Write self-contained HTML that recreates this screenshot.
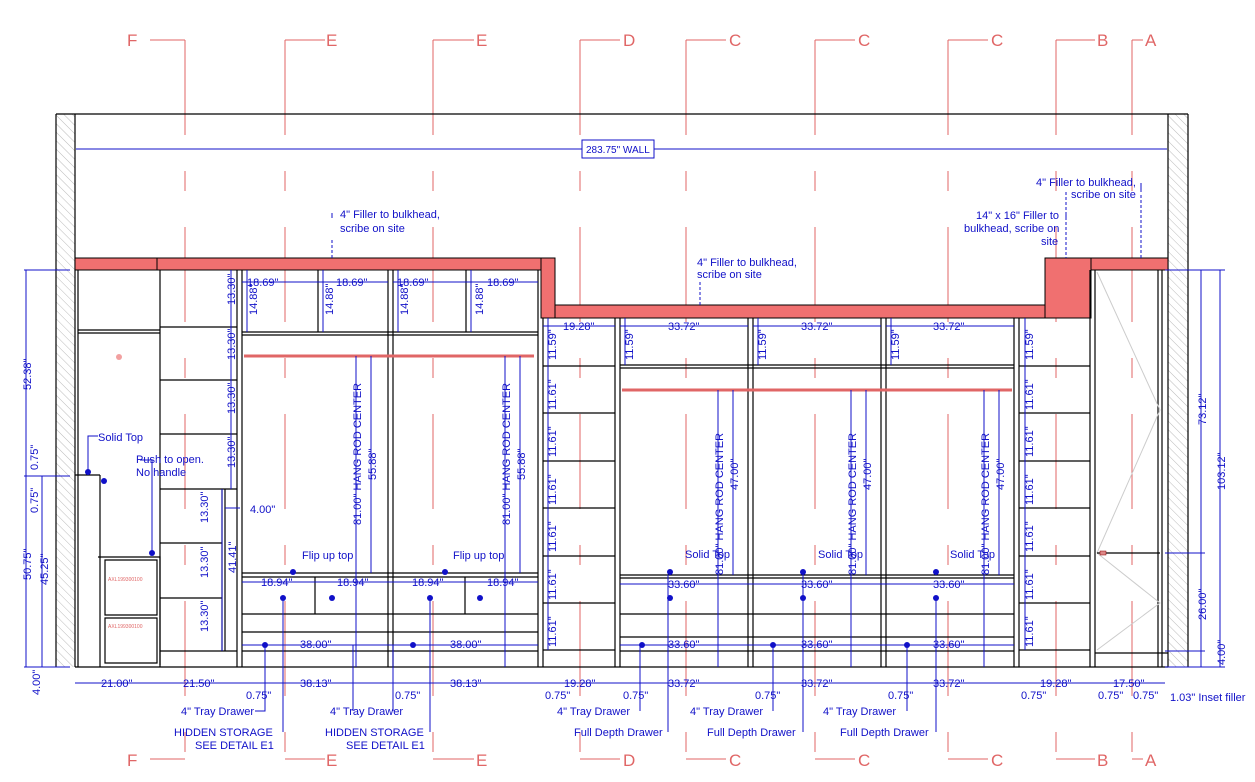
<!DOCTYPE html>
<html><head><meta charset="utf-8"><style>
html,body{margin:0;padding:0;background:#fff}
svg{display:block}
text{font-family:"Liberation Sans",sans-serif}
.d{fill:#1010c8;font-size:11px}
.s{fill:#e06666;font-size:17px}
.b{stroke:#000;stroke-width:1.2;fill:none}
.bl{stroke:#1010c8;stroke-width:1;fill:none}
.r{stroke:#e06666;stroke-width:1;fill:none}
.rd{stroke:#e06666;stroke-width:1;stroke-dasharray:95,36,20,36;fill:none}
</style></head><body>
<svg width="1255" height="782" viewBox="0 0 1255 782" xmlns="http://www.w3.org/2000/svg">
<defs>
<pattern id="h" width="6" height="6" patternUnits="userSpaceOnUse" patternTransform="rotate(-45)"><line x1="0" y1="0" x2="0" y2="6" stroke="#bbb" stroke-width="1"/></pattern>
</defs>
<g class="rd">
<path d="M185 40V760M285 40V760M433 40V760M580 40V760M686 40V760M815 40V760M948 40V760M1056 40V760M1132 40V760"/>
</g>
<g class="r">
<path d="M150 40H185M285 40H325M433 40H474M580 40H620M686 40H726M815 40H855M948 40H988M1056 40H1095M1132 40H1143"/>
<path d="M150 759H185M285 759H325M433 759H474M580 759H620M686 759H726M815 759H855M948 759H988M1056 759H1095M1132 759H1143"/>
</g>
<g class="s">
<text x="127" y="46">F</text><text x="326" y="46">E</text><text x="476" y="46">E</text><text x="623" y="46">D</text><text x="729" y="46">C</text><text x="858" y="46">C</text><text x="991" y="46">C</text><text x="1097" y="46">B</text><text x="1145" y="46">A</text>
<text x="127" y="766">F</text><text x="326" y="766">E</text><text x="476" y="766">E</text><text x="623" y="766">D</text><text x="729" y="766">C</text><text x="858" y="766">C</text><text x="991" y="766">C</text><text x="1097" y="766">B</text><text x="1145" y="766">A</text>
</g>
<rect x="56" y="114" width="19" height="553" fill="url(#h)"/>
<rect x="1168" y="114" width="20" height="553" fill="url(#h)"/>
<path class="b" d="M56 114H1188M56 114V667M75 114V667M1168 114V667M1188 114V667M75 667H1168"/>
<path class="bl" d="M76 149H582M654 149H1167"/>
<rect x="582" y="140" width="72" height="18" fill="#fff" stroke="#1010c8"/>
<text class="d" x="586" y="153" style="font-size:10px">283.75" WALL</text>
<g fill="#f07070" stroke="#000" stroke-width="1">
<rect x="75" y="258" width="466" height="12"/>
<line x1="157" y1="258" x2="157" y2="270"/>
<rect x="541" y="258" width="14" height="60"/>
<rect x="555" y="305" width="490" height="13"/>
<rect x="1045" y="258" width="46" height="60"/>
<rect x="1091" y="258" width="77" height="12"/>
</g>
<path class="b" d="M78 270V667M160 270V667M237 270V667M242 270V667M388 270V667M393 270V667M538 270V667M543 318V667M615 318V667M620 318V667M748 318V667M753 318V667M881 318V667M886 318V667M1014 318V667M1019 318V667M1090 270V667M1095 270V667M1158 270V667M1162 270V667"/>
<path class="b" d="M78 330H160M78 333H160M75 475H100M100 475V557M98 557H160V665M100 557V667M105 560H157V615H105ZM105 618H157V663H105Z"/>
<text x="108" y="581" fill="#e06666" style="font-size:5px">AXL199300100</text>
<text x="108" y="628" fill="#e06666" style="font-size:5px">AXL199300100</text>
<circle cx="119" cy="357" r="3" fill="#f2a0a0"/>
<path class="b" d="M160 327H237M160 380H237M160 434H237M160 489H237M160 543H222M160 598H222M160 651H237M222 489V651M225 489V651"/>
<path class="b" d="M242 332H538M242 335H538M318 270V332M466 270V332M242 573H538M242 577H538M242 614H538M242 632H538M242 651H538M315 577V614M465 577V614"/>
<path d="M244 356H534" stroke="#e06666" stroke-width="3"/>
<path class="b" d="M620 365H1014M620 368H1014M620 575H1014M620 578H1014M620 614H1014M620 637H1014M620 651H1014"/>
<path d="M622 390H1012" stroke="#e06666" stroke-width="3"/>
<path class="b" d="M543 366H615M543 413H615M543 461H615M543 508H615M543 556H615M543 603H615M543 650H615"/>
<path class="b" d="M1019 366H1090M1019 413H1090M1019 461H1090M1019 508H1090M1019 556H1090M1019 603H1090M1019 650H1090"/>
<path d="M1097 272L1160 410L1097 553L1160 603L1097 650" stroke="#ccc" fill="none"/>
<path class="b" d="M1097 553H1160M1095 653H1168"/>
<rect x="1100" y="551" width="6" height="4" fill="#d88" stroke="#800" stroke-width=".5"/>
<g class="bl">
<path d="M26 270V667M42 476V667M24 270H70M24 476H70M24 667H70"/>
<path d="M242 282H388M393 282H538M247 270V332M323 270V332M398 270V332M471 270V332"/>
<path d="M231 270V489M222 489V651M225 508H240"/>
<path d="M543 326H615M620 326H748M753 326H881M886 326H1014M548 318V650M625 318V365M758 318V365M891 318V365M1025 318V650"/>
<path d="M242 582H538M242 645H538M620 584H1014M620 645H1014"/>
<path d="M356 356V667M371 356V573M505 356V667M520 356V573M718 390V667M733 390V575M851 390V667M866 390V575M984 390V667M999 390V575"/>
<path d="M1201 270V667M1220 270V667M1165 553H1205M1165 651H1205M1165 270H1225M1165 667H1225"/>
<path d="M75 683H1165"/>
<path d="M265 645V711H255M393 645V711M353 645V711M430 598V732M640 645V711M668 575V732M773 645V711M803 575V732M907 645V711M936 598V732M283 598V732"/>
<path d="M88 472V436H98M152 553V460H140"/>
</g>
<g fill="#1010c8">
<circle cx="88" cy="472" r="3"/><circle cx="104" cy="481" r="3"/><circle cx="152" cy="553" r="3"/>
<circle cx="293" cy="572" r="3"/><circle cx="445" cy="572" r="3"/><circle cx="283" cy="598" r="3"/><circle cx="332" cy="598" r="3"/><circle cx="430" cy="598" r="3"/><circle cx="480" cy="598" r="3"/>
<circle cx="265" cy="645" r="3"/><circle cx="413" cy="645" r="3"/>
<circle cx="670" cy="572" r="3"/><circle cx="803" cy="572" r="3"/><circle cx="936" cy="572" r="3"/>
<circle cx="670" cy="598" r="3"/><circle cx="803" cy="598" r="3"/><circle cx="936" cy="598" r="3"/>
<circle cx="642" cy="645" r="3"/><circle cx="773" cy="645" r="3"/><circle cx="907" cy="645" r="3"/>
</g>
<g class="d">
<text x="340" y="218">4" Filler to bulkhead,</text><text x="340" y="232">scribe on site</text>
<text x="697" y="266">4" Filler to bulkhead,</text><text x="697" y="278">scribe on site</text>
<text x="1036" y="186">4" Filler to bulkhead,</text><text x="1071" y="198">scribe on site</text>
<text x="976" y="219">14" x 16" Filler to</text><text x="964" y="232">bulkhead, scribe on</text><text x="1041" y="245">site</text>
<text x="98" y="441">Solid Top</text>
<text x="136" y="463">Push to open.</text><text x="136" y="476">No handle</text>
<text x="302" y="559">Flip up top</text><text x="453" y="559">Flip up top</text>
<text x="685" y="558">Solid Top</text><text x="818" y="558">Solid Top</text><text x="950" y="558">Solid Top</text>
<text x="247" y="286">18.69"</text><text x="336" y="286">18.69"</text><text x="397" y="286">18.69"</text><text x="487" y="286">18.69"</text>
<text x="563" y="330">19.28"</text><text x="668" y="330">33.72"</text><text x="801" y="330">33.72"</text><text x="933" y="330">33.72"</text>
<text x="261" y="586">18.94"</text><text x="337" y="586">18.94"</text><text x="412" y="586">18.94"</text><text x="487" y="586">18.94"</text>
<text x="668" y="588">33.60"</text><text x="801" y="588">33.60"</text><text x="933" y="588">33.60"</text>
<text x="300" y="648">38.00"</text><text x="450" y="648">38.00"</text>
<text x="668" y="648">33.60"</text><text x="801" y="648">33.60"</text><text x="933" y="648">33.60"</text>
<text x="250" y="513">4.00"</text>
<text x="101" y="687">21.00"</text><text x="183" y="687">21.50"</text><text x="300" y="687">38.13"</text><text x="450" y="687">38.13"</text>
<text x="564" y="687">19.28"</text><text x="668" y="687">33.72"</text><text x="801" y="687">33.72"</text><text x="933" y="687">33.72"</text><text x="1040" y="687">19.28"</text><text x="1113" y="687">17.50"</text>
<text x="246" y="699">0.75"</text><text x="395" y="699">0.75"</text><text x="545" y="699">0.75"</text><text x="623" y="699">0.75"</text><text x="755" y="699">0.75"</text><text x="888" y="699">0.75"</text><text x="1021" y="699">0.75"</text><text x="1098" y="699">0.75"</text><text x="1133" y="699">0.75"</text>
<text x="1170" y="701">1.03" Inset filler</text>
<text x="181" y="715">4" Tray Drawer</text><text x="330" y="715">4" Tray Drawer</text><text x="557" y="715">4" Tray Drawer</text><text x="690" y="715">4" Tray Drawer</text><text x="823" y="715">4" Tray Drawer</text>
<text x="174" y="736">HIDDEN STORAGE</text><text x="195" y="749">SEE DETAIL E1</text>
<text x="325" y="736">HIDDEN STORAGE</text><text x="346" y="749">SEE DETAIL E1</text>
<text x="574" y="736">Full Depth Drawer</text><text x="707" y="736">Full Depth Drawer</text><text x="840" y="736">Full Depth Drawer</text>
</g>
<g class="d">
<text transform="translate(31,390) rotate(-90)">52.38"</text>
<text transform="translate(31,580) rotate(-90)">50.75"</text>
<text transform="translate(38,470) rotate(-90)">0.75"</text>
<text transform="translate(38,513) rotate(-90)">0.75"</text>
<text transform="translate(48,585) rotate(-90)">45.25"</text>
<text transform="translate(40,695) rotate(-90)">4.00"</text>
<text transform="translate(235,305) rotate(-90)">13.30"</text><text transform="translate(235,360) rotate(-90)">13.30"</text><text transform="translate(235,414) rotate(-90)">13.30"</text><text transform="translate(235,468) rotate(-90)">13.30"</text>
<text transform="translate(208,523) rotate(-90)">13.30"</text><text transform="translate(208,578) rotate(-90)">13.30"</text><text transform="translate(208,632) rotate(-90)">13.30"</text>
<text transform="translate(236,573) rotate(-90)">41.41"</text>
<text transform="translate(257,315) rotate(-90)">14.88"</text><text transform="translate(333,315) rotate(-90)">14.88"</text><text transform="translate(408,315) rotate(-90)">14.88"</text><text transform="translate(483,315) rotate(-90)">14.88"</text>
<text transform="translate(361,525) rotate(-90)">81.00" HANG ROD CENTER</text><text transform="translate(510,525) rotate(-90)">81.00" HANG ROD CENTER</text>
<text transform="translate(376,480) rotate(-90)">55.88"</text><text transform="translate(525,480) rotate(-90)">55.88"</text>
<text transform="translate(723,575) rotate(-90)">81.00" HANG ROD CENTER</text><text transform="translate(856,575) rotate(-90)">81.00" HANG ROD CENTER</text><text transform="translate(989,575) rotate(-90)">81.00" HANG ROD CENTER</text>
<text transform="translate(738,490) rotate(-90)">47.00"</text><text transform="translate(871,490) rotate(-90)">47.00"</text><text transform="translate(1004,490) rotate(-90)">47.00"</text>
<text transform="translate(556,360) rotate(-90)">11.59"</text><text transform="translate(633,360) rotate(-90)">11.59"</text><text transform="translate(766,360) rotate(-90)">11.59"</text><text transform="translate(899,360) rotate(-90)">11.59"</text><text transform="translate(1033,360) rotate(-90)">11.59"</text>
<text transform="translate(556,410) rotate(-90)">11.61"</text><text transform="translate(556,457) rotate(-90)">11.61"</text><text transform="translate(556,505) rotate(-90)">11.61"</text><text transform="translate(556,552) rotate(-90)">11.61"</text><text transform="translate(556,600) rotate(-90)">11.61"</text><text transform="translate(556,647) rotate(-90)">11.61"</text>
<text transform="translate(1033,410) rotate(-90)">11.61"</text><text transform="translate(1033,457) rotate(-90)">11.61"</text><text transform="translate(1033,505) rotate(-90)">11.61"</text><text transform="translate(1033,552) rotate(-90)">11.61"</text><text transform="translate(1033,600) rotate(-90)">11.61"</text><text transform="translate(1033,647) rotate(-90)">11.61"</text>
<text transform="translate(1206,425) rotate(-90)">73.12"</text><text transform="translate(1225,490) rotate(-90)">103.12"</text>
<text transform="translate(1206,620) rotate(-90)">26.00"</text><text transform="translate(1225,665) rotate(-90)">4.00"</text>
</g>
<path d="M332 240V258M700 282V305M1066 192V258M1141 195V258" stroke="#1010c8" stroke-dasharray="3,2"/>
<path class="bl" d="M332 213V218M1141 183V192M1066 213V220"/>
</svg>
</body></html>
